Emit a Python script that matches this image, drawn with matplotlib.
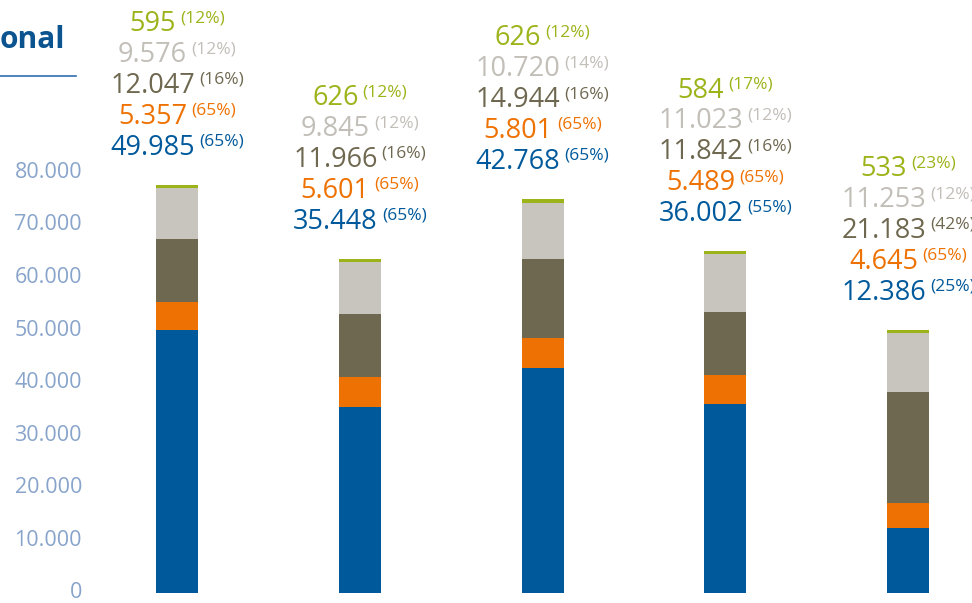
import matplotlib
matplotlib.use("Agg")
import matplotlib.pyplot as plt
from matplotlib.lines import Line2D
from matplotlib.offsetbox import TextArea, HPacker, AnnotationBbox

## ------------------------------------------------------------
## 데이터 (아래 -> 위 순서로 쌓임)
## ------------------------------------------------------------
azul      = [49985, 35448, 42768, 36002, 12386]
naranja   = [5357, 5601, 5801, 5489, 4645]
oscuro    = [12047, 11966, 14944, 11842, 21183]
gris      = [9576, 9845, 10720, 11023, 11253]
verde     = [595, 626, 626, 584, 533]

azul_pct    = [65, 65, 65, 55, 25]
naranja_pct = [65, 65, 65, 65, 65]
oscuro_pct  = [16, 16, 16, 16, 42]
gris_pct    = [12, 12, 14, 12, 12]
verde_pct   = [12, 12, 12, 17, 23]

yticks = [0, 10000, 20000, 30000, 40000, 50000, 60000, 70000, 80000]
titulo = "onal"

## 색상
c_azul, c_naranja, c_oscuro = "#00599B", "#EE7203", "#6F6850"
c_gris, c_verde = "#C8C4BE", "#9DB31A"
c_gris_txt = "#C2BEB8"
c_tick = "#88A4CB"

FONT = ["Open Sans", "DejaVu Sans"]
plt.rcParams["font.family"] = FONT

def fmt(v):
    return f"{v:,}".replace(",", ".")

## ------------------------------------------------------------
## 그림 / 축 (픽셀 기준 배치)
## ------------------------------------------------------------
W, H = 972, 603
fig = plt.figure(figsize=(W / 100, H / 100), dpi=100)
ax = fig.add_axes([0, 0, 1, 1])
ax.set_axis_off()

step = 182.75            # 막대 간격(px)
x0_px = 177              # 첫 막대 중심(px)
scale = 52.6 / 10000     # 값 1당 px
base_px = 593            # 0의 위치(위에서 px)

ax.set_xlim(-x0_px / step, (W - x0_px) / step)
ax.set_ylim(-(H - base_px) / scale, base_px / scale)

x = list(range(len(azul)))
width = 42 / step

series = [(azul, c_azul), (naranja, c_naranja), (oscuro, c_oscuro),
          (gris, c_gris), (verde, c_verde)]
bottom = [0] * len(x)
for vals, col in series:
    ax.bar(x, vals, width=width, bottom=bottom, color=col, linewidth=0)
    bottom = [b + v for b, v in zip(bottom, vals)]
totals = bottom

## 막대 위 라벨 (숫자 + 위첨자 비율)
labels = [(azul, azul_pct, c_azul), (naranja, naranja_pct, c_naranja),
          (oscuro, oscuro_pct, c_oscuro), (gris, gris_pct, c_gris_txt),
          (verde, verde_pct, c_verde)]
for i in x:
    for k, (vals, pcts, col) in enumerate(labels):
        num = TextArea(fmt(vals[i]), textprops=dict(color=col, fontsize=19.5, family=FONT))
        pct = TextArea(f"({pcts[i]}%)", textprops=dict(color=col, fontsize=12.5, family=FONT))
        box = HPacker(children=[num, pct], align="top", pad=0, sep=3)
        ab = AnnotationBbox(box, (i, totals[i]), xybox=(0, 27 + 22.2 * k),
                            xycoords="data", boxcoords="offset points",
                            box_alignment=(0.5, 0.5), frameon=False,
                            annotation_clip=False)
        ax.add_artist(ab)

## y축 눈금 라벨
xlab = (82 - x0_px) / step
for v in yticks:
    ax.text(xlab, v, fmt(v), ha="right", va="center", fontsize=15.5, color=c_tick)

## 제목 (잘린 부분) + 밑줄
fig.text(0.0, 1 - 40 / H, titulo, ha="left", va="center", fontsize=21.5,
         fontweight="bold", color="#0B5490")
fig.add_artist(Line2D([0, 76 / W], [1 - 76 / H] * 2, transform=fig.transFigure,
                      color="#2F6DB0", linewidth=1.2))

fig.savefig("out.png", dpi=100)
